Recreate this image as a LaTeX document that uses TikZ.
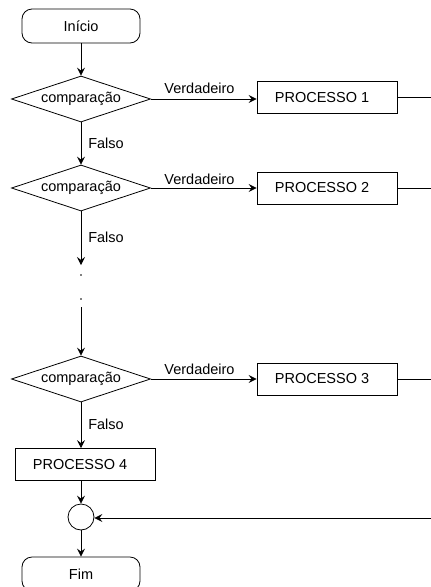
\documentclass[tikz,border=0pt]{standalone}
\usepackage{fontspec}
\setmainfont{Liberation Sans}
\usetikzlibrary{shapes.geometric,arrows.meta}
\begin{document}
\begin{tikzpicture}[x=1pt,y=-1pt,
  font=\fontsize{14.5}{17}\selectfont,
  every path/.style={line width=0.8pt},
  flow/.style={-{Stealth[length=8pt,width=8pt,inset=3pt]}},
  terminal/.style={draw,rounded corners=10pt,minimum width=118pt,minimum height=34pt,inner sep=0pt},
  decision/.style={draw,diamond,aspect=3,inner sep=0pt,minimum width=139pt,minimum height=46pt},
  procbox/.style={draw,rectangle,minimum width=140pt,minimum height=32pt,inner sep=0pt,
    execute at begin node=\hspace*{-10pt}},
  joint/.style={draw,circle,minimum size=26pt,inner sep=0pt},
  lbl/.style={inner sep=0pt},
  dotmark/.style={fill,circle,inner sep=0pt,minimum size=1.6pt}]
\useasboundingbox (0,0) rectangle (431,587);

% main column
\node[terminal] (inicio) at (81,26) {Início};
\node[decision] (c1) at (81,99) {comparação};
\node[decision] (c2) at (81,188) {comparação};
\node[decision] (c3) at (81,379) {comparação};
\node[procbox] (p4) at (85,464.5) {PROCESSO 4};
\node[joint] (jn) at (81,517) {};
\node[terminal] (fim) at (81,574) {Fim};

% process boxes on the true branches
\node[procbox] (p1) at (327,97.5) {PROCESSO 1};
\node[procbox] (p2) at (327,188) {PROCESSO 2};
\node[procbox] (p3) at (327,379) {PROCESSO 3};

% ellipsis between the second and last comparison
\node[dotmark] (d1) at (81,275) {};
\node[dotmark] (d2) at (81,299) {};
\coordinate (gapend) at (81,265);
\coordinate (gapstart) at (81,307);

% right-hand return line (continues beyond the frame)
\coordinate (r1) at (433,97.5);
\coordinate (r2) at (433,188);
\coordinate (r3) at (433,379);
\coordinate (rj) at (433,518);

% vertical flow
\draw[flow] (inicio) -- (c1);
\draw[flow] (c1) -- (c2);
\draw[flow] (c2.south) -- (gapend);
\draw[flow] (gapstart) -- (c3.north);
\draw[flow] (c3.south) -- (c3.south |- p4.north);
\draw[flow] (jn.north |- p4.south) -- (jn.north);
\draw[flow] (jn) -- (fim);

% true branches
\draw[flow] (c1.east) -- (p1.west |- c1.east);
\draw[flow] (c2.east) -- (p2.west);
\draw[flow] (c3.east) -- (p3.west);
\draw (p1.east) -- (r1);
\draw (p2.east) -- (r2);
\draw (p3.east) -- (r3);
\draw[flow] (rj) -- (jn.east |- rj);

% branch labels
\node[lbl] (v1) at (199.5,88) {Verdadeiro};
\node[lbl] (v2) at (199.5,179) {Verdadeiro};
\node[lbl] (v3) at (199.5,369) {Verdadeiro};
\node[lbl] (f1) at (106,143) {Falso};
\node[lbl] (f2) at (106,237) {Falso};
\node[lbl] (f3) at (106,424) {Falso};
\end{tikzpicture}
\end{document}
